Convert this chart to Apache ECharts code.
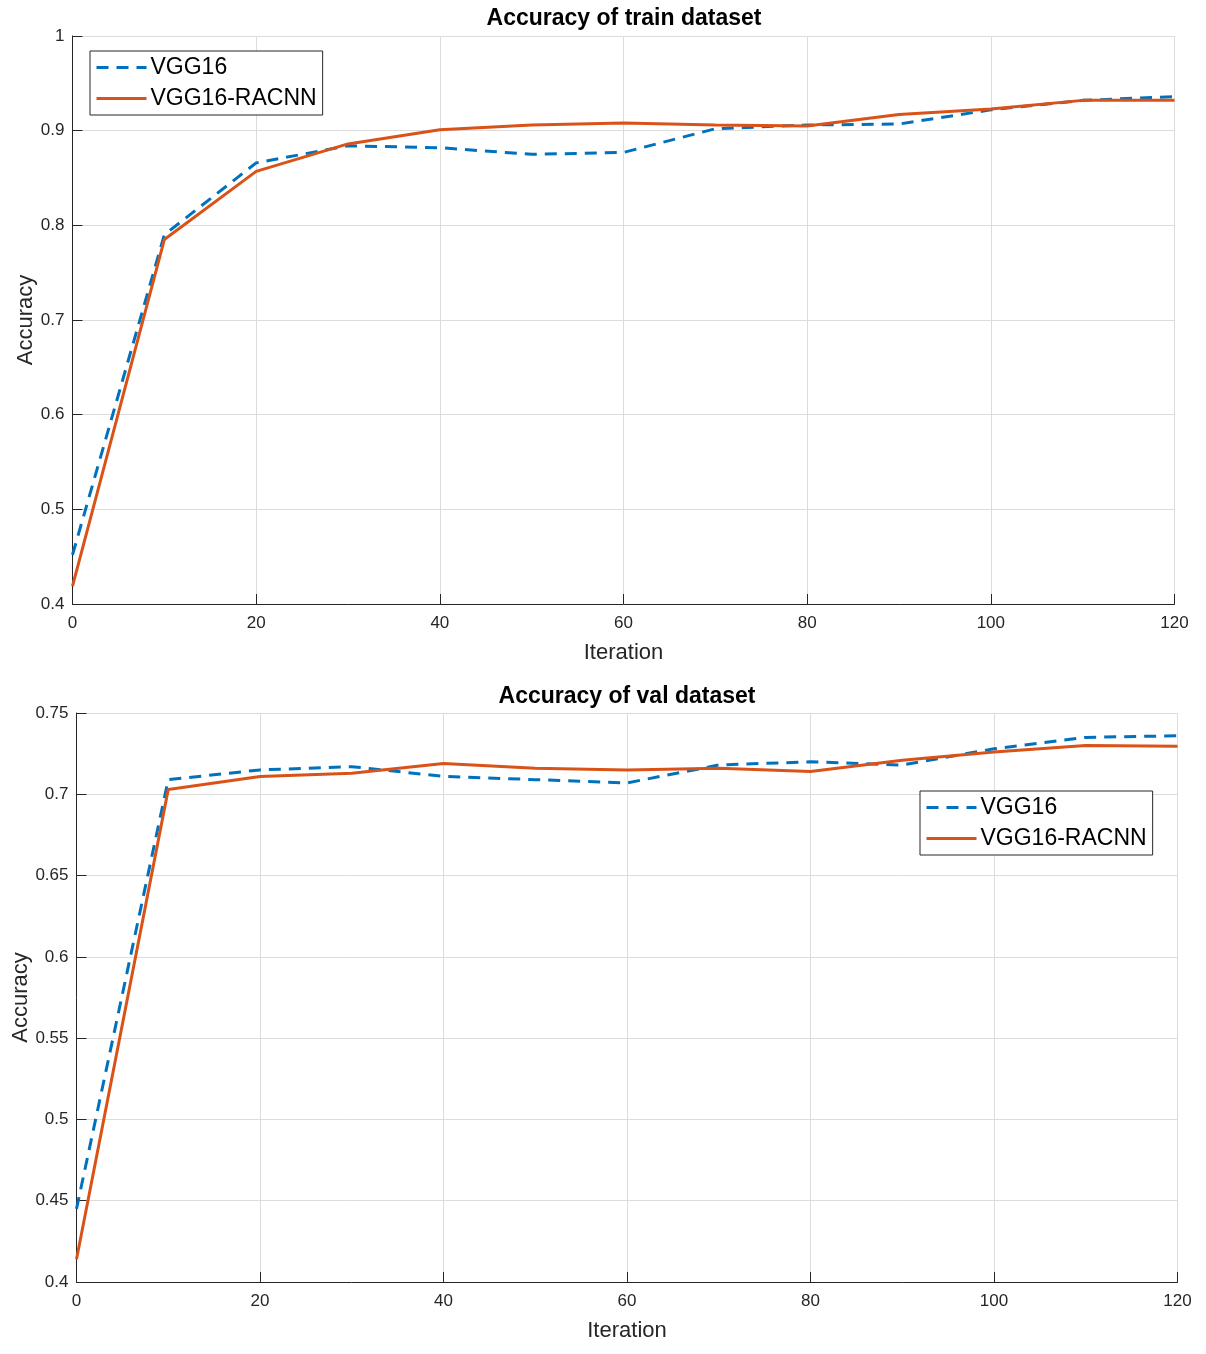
<!DOCTYPE html>
<html>
<head>
<meta charset="utf-8">
<script src="https://cdn.jsdelivr.net/npm/echarts@6/dist/echarts.min.js"></script>
<style>
  html, body { margin: 0; padding: 0; background: #fff; }
  #main { width: 1206px; height: 1354px; }
</style>
</head>
<body>
<div id="main"></div>
<script>
var iterations = [0, 10, 20, 30, 40, 50, 60, 70, 80, 90, 100, 110, 120];
var trainVgg = [0.452, 0.790, 0.866, 0.884, 0.882, 0.875, 0.877, 0.902, 0.906, 0.907, 0.922, 0.932, 0.936];
var trainRacnn = [0.419, 0.785, 0.857, 0.886, 0.901, 0.906, 0.908, 0.906, 0.905, 0.917, 0.923, 0.932, 0.932];
var valVgg = [0.445, 0.709, 0.715, 0.717, 0.711, 0.709, 0.707, 0.718, 0.720, 0.718, 0.728, 0.735, 0.736];
var valRacnn = [0.414, 0.703, 0.711, 0.713, 0.719, 0.716, 0.715, 0.716, 0.714, 0.721, 0.726, 0.730, 0.7295];
var seriesNames = ['VGG16', 'VGG16-RACNN'];
var titles = ['Accuracy of train dataset', 'Accuracy of val dataset'];

var FONT = '"Liberation Sans", Arial, Helvetica, sans-serif';
var AXIS_COLOR = '#262626';
var GRID_COLOR = '#dcdcdc';

var pairs = function(xs, ys) {
    var out = [];
    for (var i = 0; i < xs.length; i++) {
        out.push([xs[i], ys[i]]);
    }
    return out;
};

var xAxisFor = function(idx) {
    return {
        gridIndex: idx,
        type: 'value',
        min: 0,
        max: 120,
        interval: 20,
        name: 'Iteration',
        nameLocation: 'middle',
        nameGap: 38,
        nameTextStyle: { fontFamily: FONT, fontSize: 22, color: AXIS_COLOR },
        axisLine: { lineStyle: { color: AXIS_COLOR, width: 1 } },
        axisTick: { show: true, inside: true, length: 10, lineStyle: { color: AXIS_COLOR } },
        axisLabel: { fontFamily: FONT, fontSize: 17, color: AXIS_COLOR, margin: 11 },
        splitLine: { show: true, lineStyle: { color: GRID_COLOR, width: 1 } }
    };
};

var yAxisFor = function(idx, min, max, interval, gap) {
    return {
        gridIndex: idx,
        type: 'value',
        min: min,
        max: max,
        interval: interval,
        name: 'Accuracy',
        nameLocation: 'middle',
        nameGap: gap,
        nameMoveOverlap: false,
        nameTextStyle: { fontFamily: FONT, fontSize: 22, color: AXIS_COLOR },
        axisLine: { show: true, lineStyle: { color: AXIS_COLOR, width: 1 } },
        axisTick: { show: true, inside: true, length: 10, lineStyle: { color: AXIS_COLOR } },
        axisLabel: { fontFamily: FONT, fontSize: 17, color: AXIS_COLOR, margin: 8 },
        splitLine: { show: true, lineStyle: { color: GRID_COLOR, width: 1 } }
    };
};

var lineSeries = function(name, idx, data, dashed) {
    return {
        name: name,
        type: 'line',
        xAxisIndex: idx,
        yAxisIndex: idx,
        data: data,
        symbol: 'none',
        smooth: false,
        lineStyle: {
            color: dashed ? '#0072BD' : '#D95319',
            width: 3,
            type: dashed ? [12, 8] : 'solid'
        },
        itemStyle: { color: dashed ? '#0072BD' : '#D95319' },
        z: dashed ? 2 : 3
    };
};

var legendFor = function(left, top) {
    return {
        data: seriesNames,
        orient: 'vertical',
        left: left,
        top: top,
        itemWidth: 50,
        itemHeight: 14,
        itemGap: 8,
        padding: [5, 6, 5, 5],
        backgroundColor: '#fff',
        borderColor: '#262626',
        borderWidth: 1,
        borderRadius: 0,
        selectedMode: false,
        itemStyle: { opacity: 0 },
        lineStyle: { width: 3 },
        textStyle: { fontFamily: FONT, fontSize: 23, color: '#000', padding: [0, 0, 0, -1] }
    };
};

var option = {
    animation: false,
    backgroundColor: '#fff',
    title: [{
        text: titles[0],
        left: 624,
        top: 7,
        textAlign: 'center',
        padding: 0,
        textStyle: { fontFamily: FONT, fontSize: 23, fontWeight: 'bold', color: '#000' }
    }, {
        text: titles[1],
        left: 627,
        top: 685,
        textAlign: 'center',
        padding: 0,
        textStyle: { fontFamily: FONT, fontSize: 23, fontWeight: 'bold', color: '#000' }
    }],
    legend: [legendFor(90, 51), legendFor(920, 791)],
    grid: [
        { left: 72.5, top: 36, width: 1102, height: 568, containLabel: false, outerBoundsMode: 'none' },
        { left: 76.5, top: 713, width: 1101, height: 569, containLabel: false, outerBoundsMode: 'none' }
    ],
    xAxis: [xAxisFor(0), xAxisFor(1)],
    yAxis: [yAxisFor(0, 0.4, 1, 0.1, 36), yAxisFor(1, 0.4, 0.75, 0.05, 45)],
    series: [
        lineSeries(seriesNames[0], 0, pairs(iterations, trainVgg), true),
        lineSeries(seriesNames[1], 0, pairs(iterations, trainRacnn), false),
        lineSeries(seriesNames[0], 1, pairs(iterations, valVgg), true),
        lineSeries(seriesNames[1], 1, pairs(iterations, valRacnn), false)
    ]
};

var myChart = echarts.init(document.getElementById('main'));
myChart.setOption(option);
</script>
</body>
</html>
